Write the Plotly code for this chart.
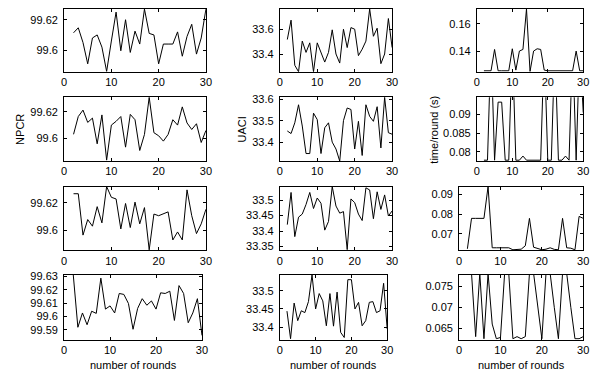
import plotly.graph_objects as go

rounds = list(range(2, 31))

npcr1 = [99.6114, 99.6147, 99.605, 99.591, 99.608, 99.610, 99.602, 99.586, 99.606, 99.625,
         99.5996, 99.620, 99.5985, 99.6125, 99.604, 99.627, 99.611, 99.610, 99.591, 99.604,
         99.604, 99.604, 99.612, 99.596, 99.609, 99.617, 99.5974, 99.608, 99.627]
npcr2 = [99.6031, 99.6164, 99.6212, 99.612, 99.6152, 99.596, 99.6176, 99.5838, 99.610, 99.6128,
         99.6164, 99.5935, 99.618, 99.614, 99.591, 99.603, 99.6308, 99.6043, 99.602, 99.598,
         99.603, 99.614, 99.610, 99.6236, 99.6116, 99.6067, 99.611, 99.597, 99.606]
npcr3 = [99.6266, 99.6266, 99.5965, 99.6078, 99.603, 99.6172, 99.6054, 99.6318, 99.624, 99.6228,
         99.601, 99.6195, 99.602, 99.6205, 99.6047, 99.6165, 99.5858, 99.6118, 99.6106, 99.6118,
         99.6134, 99.593, 99.5988, 99.593, 99.6294, 99.6106, 99.5976, 99.6047, 99.6153]
npcr4 = [99.6312, 99.592, 99.6027, 99.5939, 99.604, 99.6024, 99.6288, 99.6056, 99.608, 99.6027,
         99.6173, 99.6166, 99.6098, 99.5905, 99.6061, 99.6134, 99.6085, 99.6117, 99.6056, 99.6178,
         99.6173, 99.619, 99.5971, 99.6232, 99.6173, 99.5954, 99.6027, 99.6134, 99.5859]

uaci1 = [33.517, 33.673, 33.309, 33.257, 33.504, 33.413, 33.49, 33.257, 33.49, 33.413,
         33.335, 33.413, 33.595, 33.4, 33.327, 33.6, 33.452, 33.613, 33.6, 33.387,
         33.439, 33.504, 33.7636, 33.543, 33.608, 33.322, 33.4, 33.686, 33.452]
uaci2 = [33.452, 33.44, 33.49, 33.574, 33.475, 33.347, 33.347, 33.535, 33.505, 33.347,
         33.467, 33.49, 33.4, 33.368, 33.312, 33.5, 33.559, 33.552, 33.368, 33.497,
         33.338, 33.574, 33.52, 33.497, 33.565, 33.373, 33.609, 33.444, 33.437]
uaci3 = [33.4208, 33.525, 33.382, 33.445, 33.455, 33.486, 33.525, 33.473, 33.507, 33.49,
         33.403, 33.431, 33.544, 33.481, 33.458, 33.463, 33.34, 33.504, 33.492, 33.455,
         33.434, 33.54, 33.533, 33.44, 33.527, 33.47, 33.517, 33.449, 33.465]
uaci4 = [33.444, 33.3687, 33.466, 33.418, 33.445, 33.44, 33.47, 33.543, 33.45, 33.492,
         33.472, 33.404, 33.492, 33.403, 33.496, 33.386, 33.372, 33.53, 33.53, 33.45,
         33.468, 33.404, 33.418, 33.468, 33.47, 33.44, 33.445, 33.52, 33.395]

time1 = [0.1255, 0.1255, 0.1255, 0.1412, 0.1255, 0.1255, 0.1255, 0.1255, 0.1417, 0.126,
         0.14, 0.1412, 0.171, 0.125, 0.14, 0.1417, 0.1412, 0.126, 0.1255, 0.1255,
         0.1255, 0.1255, 0.1255, 0.1255, 0.1255, 0.1255, 0.14, 0.1255, 0.1255]
time2 = [0.0778, 0.0778, 0.109, 0.0778, 0.0933, 0.0933, 0.0778, 0.0778, 0.109, 0.0778,
         0.0778, 0.0789, 0.0778, 0.0778, 0.0778, 0.0778, 0.0778, 0.109, 0.0778, 0.0778,
         0.109, 0.0778, 0.0778, 0.0789, 0.0778, 0.109, 0.0778, 0.109, 0.0905]
time3 = [0.0625, 0.0778, 0.0778, 0.0778, 0.0778, 0.0938, 0.0630, 0.0630, 0.0630, 0.0630,
         0.0630, 0.0620, 0.0620, 0.0623, 0.0640, 0.0778, 0.0633, 0.0628, 0.0620, 0.0623,
         0.0630, 0.0622, 0.0620, 0.0778, 0.0630, 0.0628, 0.0620, 0.0788, 0.0778]
time4 = [0.0781, 0.0781, 0.0630, 0.0781, 0.0625, 0.0781, 0.0660, 0.0625, 0.0628, 0.0781,
         0.0781, 0.0625, 0.0630, 0.0625, 0.0630, 0.0781, 0.0781, 0.0700, 0.0625, 0.0781,
         0.0781, 0.0700, 0.0625, 0.0781, 0.0781, 0.0700, 0.0625, 0.0625, 0.0630]

x_ticks = [0, 10, 20, 30]
x_ticklabels = ["0", "10", "20", "30"]

# y tick labels per panel (row-major: NPCR, UACI, time)
yt_npcr1 = ["99.6", "99.62"]
yt_npcr2 = ["99.6", "99.62"]
yt_npcr3 = ["99.6", "99.62"]
yt_npcr4 = ["99.59", "99.6", "99.61", "99.62", "99.63"]
yt_uaci1 = ["33.4", "33.6"]
yt_uaci2 = ["33.4", "33.5", "33.6"]
yt_uaci3 = ["33.35", "33.4", "33.45", "33.5"]
yt_uaci4 = ["33.4", "33.45", "33.5"]
yt_time1 = ["0.14", "0.16"]
yt_time2 = ["0.08", "0.085", "0.09"]
yt_time3 = ["0.07", "0.08", "0.09"]
yt_time4 = ["0.065", "0.07", "0.075"]

ylabels = ["NPCR", "UACI", "time/round (s)"]
xlabel = "number of rounds"

W, H = 605, 378
FONT = "Liberation Sans, Arial, sans-serif"

series = [
    [npcr1, uaci1, time1],
    [npcr2, uaci2, time2],
    [npcr3, uaci3, time3],
    [npcr4, uaci4, time4],
]
yticklabels = [
    [yt_npcr1, yt_uaci1, yt_time1],
    [yt_npcr2, yt_uaci2, yt_time2],
    [yt_npcr3, yt_uaci3, yt_time3],
    [yt_npcr4, yt_uaci4, yt_time4],
]
yranges = [
    [[99.5858, 99.6271], [33.257, 33.7636], [0.1248, 0.171]],
    [[99.5831, 99.6308], [33.312, 33.609], [0.07757, 0.0946]],
    [[99.5854, 99.6318], [33.3375, 33.544], [0.0617, 0.0938]],
    [[99.5827, 99.6312], [33.366, 33.543], [0.06227, 0.07773]],
]
# pixel boxes (left, right) per row/col and (top, bottom) per row
col_px = [
    [(62, 206), (281, 395), (481, 589)],
    [(62, 206), (281, 395), (481, 589)],
    [(62, 206), (281, 395), (463, 589)],
    [(62, 202), (281, 390), (463, 589)],
]
row_px = [(4, 68), (94, 159), (185, 250), (275, 341)]

fig = go.Figure()
layout = {}
k = 0
for r in range(4):
    for c in range(3):
        k += 1
        xa = "x" if k == 1 else f"x{k}"
        ya = "y" if k == 1 else f"y{k}"
        fig.add_trace(go.Scatter(
            x=rounds, y=series[r][c], mode="lines",
            line=dict(color="black", width=1),
            xaxis=xa, yaxis=ya, showlegend=False, hoverinfo="skip"))
        l, rr = col_px[r][c]
        t, b = row_px[r]
        labels = yticklabels[r][c]
        common = dict(showline=True, linecolor="black", linewidth=1, mirror="ticks",
                      ticks="inside", ticklen=3, tickcolor="black", tickwidth=1,
                      showgrid=False, zeroline=False,
                      tickfont=dict(family=FONT, size=11, color="black"))
        layout["xaxis" if k == 1 else f"xaxis{k}"] = dict(
            domain=[l / W, rr / W], anchor=ya, range=[0, 30],
            tickvals=x_ticks, ticktext=x_ticklabels, **common)
        layout["yaxis" if k == 1 else f"yaxis{k}"] = dict(
            domain=[1 - b / H, 1 - t / H], anchor=xa, range=yranges[r][c],
            tickvals=[float(s) for s in labels], ticktext=labels,
            ticklabelstandoff=3, **common)

annotations = []
ylab_x = [17, 243, 438]
for c in range(3):
    annotations.append(dict(
        text=ylabels[c], x=ylab_x[c] / W, y=1 - 126.5 / H, xref="paper", yref="paper",
        showarrow=False, textangle=-90, xanchor="center", yanchor="middle",
        font=dict(family=FONT, size=11, color="black")))
    l, rr = col_px[3][c]
    annotations.append(dict(
        text=xlabel, x=(l + rr) / 2 / W, y=1 - 367 / H, xref="paper", yref="paper",
        showarrow=False, xanchor="center", yanchor="middle",
        font=dict(family=FONT, size=11, color="black")))

fig.update_layout(
    width=W, height=H, margin=dict(l=0, r=0, t=0, b=0),
    paper_bgcolor="white", plot_bgcolor="white",
    annotations=annotations, **layout)

fig.write_html("out.html", config={"displayModeBar": False},
               post_script="document.body.style.margin='0';document.body.style.padding='0';")
